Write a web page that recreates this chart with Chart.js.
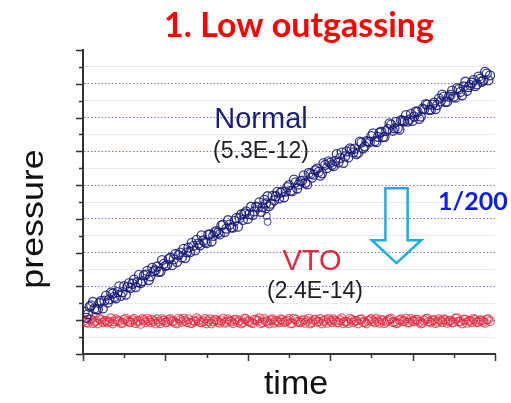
<!DOCTYPE html>
<html>
<head>
<meta charset="utf-8">
<script src="https://cdn.jsdelivr.net/npm/chart.js@4.4.1/dist/chart.umd.min.js"></script>
<style>
  html, body { margin: 0; padding: 0; background: #fff; }
  #wrap { width: 511px; height: 403px; position: relative; }
</style>
</head>
<body>
<div id="wrap"><canvas id="chart"></canvas></div>
<script>
// Both runs are logged on the same time base
const sampleStart = 0.02;
const sampleStep = 0.02;

// Normal chamber: pressure keeps climbing
const normalP = [
  1.25, 1.07, 1.18, 1.40, 1.44, 1.54, 1.35, 1.32, 1.32, 1.51,
  1.57, 1.35, 1.58, 1.73, 1.52, 1.62, 1.82, 1.79, 1.69, 1.65,
  1.83, 2.00, 1.72, 1.83, 2.01, 1.76, 1.98, 2.10, 1.96, 2.08,
  2.20, 1.98, 2.13, 2.34, 2.10, 2.16, 2.33, 2.35, 2.46, 2.19,
  2.30, 2.55, 2.45, 2.48, 2.59, 2.43, 2.44, 2.78, 2.67, 2.61,
  2.63, 2.81, 2.85, 2.63, 2.80, 2.96, 2.72, 2.93, 3.00, 2.86,
  3.11, 2.84, 3.01, 3.15, 3.02, 3.29, 3.20, 3.07, 3.38, 3.27,
  3.22, 3.51, 3.36, 3.31, 3.28, 3.53, 3.54, 3.33, 3.50, 3.61,
  3.64, 3.59, 3.54, 3.81, 3.83, 3.61, 3.71, 3.96, 3.83, 3.75,
  3.74, 3.94, 4.02, 3.77, 4.03, 4.13, 3.97, 4.16, 4.22, 4.00,
  4.14, 4.36, 4.12, 4.22, 4.36, 4.34, 4.49, 4.21, 4.35, 4.56,
  4.46, 4.67, 4.38, 4.45, 4.68, 4.55, 4.67, 4.80, 4.61, 4.78,
  4.81, 4.64, 4.81, 4.94, 5.00, 4.83, 4.82, 5.16, 5.08, 4.90,
  5.02, 5.12, 5.13, 5.29, 5.07, 5.02, 5.36, 5.33, 5.22, 5.31,
  5.44, 5.49, 5.39, 5.28, 5.35, 5.65, 5.60, 5.50, 5.70, 5.66,
  5.60, 5.56, 5.72, 5.92, 5.67, 5.80, 5.96, 5.66, 5.85, 6.00,
  5.82, 6.09, 6.06, 5.97, 6.08, 5.92, 5.96, 6.29, 6.26, 6.09,
  6.15, 6.30, 6.29, 6.27, 6.45, 6.53, 6.30, 6.27, 6.43, 6.55,
  6.58, 6.42, 6.43, 6.60, 6.66, 6.83, 6.79, 6.61, 6.68, 6.87,
  6.68, 6.64, 6.92, 6.91, 6.89, 7.07, 6.88, 6.94, 7.11, 6.90,
  7.03, 7.18, 7.17, 6.96, 7.03, 7.26, 7.24, 7.40, 7.38, 7.23,
  7.23, 7.38, 7.44, 7.25, 7.37, 7.56, 7.48, 7.68, 7.62, 7.46,
  7.47, 7.62, 7.67, 7.80, 7.62, 7.59, 7.87, 7.84, 7.76, 7.66,
  7.92, 8.06, 7.79, 7.90, 7.96, 8.03, 8.11, 7.93, 7.98, 8.21,
  8.15, 8.06, 8.11, 8.35, 8.30, 8.10, 8.25
];
// short glitch below the normal trace
const glitchT = [2.22, 2.23, 2.24];
const glitchP = [4.27, 4.09, 3.91];

// VTO chamber: stays flat
const vtoP = [
  0.99, 0.94, 0.92, 1.02, 1.03, 0.91, 0.95, 0.98, 0.90, 1.04, 1.01, 0.93, 0.97, 0.99, 0.93, 0.96, 1.06, 0.90, 0.96, 1.03,
  0.99, 0.97, 0.91, 0.92, 1.02, 1.05, 0.98, 0.95, 0.94, 1.00, 1.04, 0.91, 0.97, 0.98, 0.89, 1.04, 1.00, 0.94, 1.05, 0.99,
  0.93, 1.02, 0.97, 0.90, 1.03, 0.96, 0.91, 1.03, 0.99, 0.93, 0.95, 1.01, 1.04, 0.97, 0.97, 0.92, 0.90, 1.05, 1.01, 0.95,
  1.05, 0.98, 0.94, 1.03, 0.92, 0.91, 0.99, 0.96, 1.06, 1.00, 0.94, 0.93, 0.97, 1.04, 0.90, 0.97, 1.03, 0.90, 0.96, 1.02,
  1.00, 0.95, 0.92, 0.99, 1.05, 0.92, 0.95, 1.03, 0.98, 0.96, 0.91, 1.01, 1.02, 0.94, 0.99, 0.90, 0.93, 1.05, 1.04, 0.97,
  0.96, 0.93, 0.91, 1.02, 1.01, 0.98, 1.06, 0.91, 0.94, 1.04, 0.97, 0.95, 0.90, 1.00, 1.03, 0.92, 0.99, 0.97, 0.93, 1.03,
  1.00, 0.94, 0.96, 0.99, 1.04, 0.91, 0.91, 1.05, 1.02, 0.96, 0.95, 0.93, 0.98, 1.02, 0.92, 0.98, 1.05, 0.90, 0.94, 1.01,
  1.02, 0.95, 0.96, 1.04, 0.90, 0.97, 1.01, 0.92, 1.04, 0.99, 0.94, 1.03, 0.98, 0.94, 0.93, 1.00, 1.06, 0.91, 0.96, 0.96,
  0.91, 1.05, 1.01, 0.93, 0.99, 0.98, 0.90, 1.02, 1.03, 0.95, 0.94, 0.90, 0.98, 1.01, 1.04, 0.97, 0.93, 1.04, 0.97, 0.92,
  1.02, 0.99, 0.91, 0.96, 1.00, 1.03, 1.05, 0.94, 0.95, 0.91, 0.92, 1.00, 1.03, 0.97, 0.97, 1.05, 0.93, 0.93, 1.04, 0.98,
  0.96, 1.02, 1.01, 0.95, 0.90, 0.92, 0.99, 1.04, 1.05, 0.96, 0.93, 0.99, 1.01, 0.91, 0.95, 1.03, 0.98, 0.94, 1.03, 1.00,
  0.92, 0.97, 0.99, 0.93, 0.94, 1.05, 1.06, 0.96, 0.96, 0.90, 1.02, 1.02, 0.92, 0.98, 0.98, 0.94, 1.04, 1.01, 0.94, 0.95,
  1.00, 0.99, 0.95, 0.92, 1.02, 1.03, 0.97
];

const timeMax = 5;
const pressureMax = 9;

// "1/200" drop arrow outline, in (time, pressure)
const arrowT = [3.67, 3.94, 3.94, 4.105, 3.805, 3.505, 3.67];
const arrowP = [4.91, 4.91, 3.37, 3.37, 2.69, 3.37, 3.37];

const toPoints = (vals) => vals.map((p, i) => ({ x: sampleStart + i * sampleStep, y: p }));

const SANS = '"Liberation Sans", Arial, sans-serif';

// minor/major tick marks on the outside of both axes
const axisTicks = {
  id: 'axisTicks',
  afterDraw(chart) {
    const { ctx, scales: { x, y } } = chart;
    ctx.save();
    ctx.strokeStyle = '#333';
    ctx.lineWidth = 1.5;
    ctx.beginPath();
    for (let v = 0; v <= pressureMax; v += 0.5) {
      const py = Math.round(y.getPixelForValue(v)) + 0.5;
      const len = Number.isInteger(v) ? 7 : 4;
      ctx.moveTo(x.left - len, py);
      ctx.lineTo(x.left, py);
    }
    for (let v = 0; v <= timeMax; v += 0.5) {
      const px = Math.round(x.getPixelForValue(v)) + 0.5;
      const len = Number.isInteger(v) ? 7 : 4;
      ctx.moveTo(px, y.bottom);
      ctx.lineTo(px, y.bottom + len);
    }
    ctx.stroke();
    ctx.restore();
  }
};

const arrowMark = {
  id: 'arrowMark',
  afterDraw(chart) {
    const { ctx, scales: { x, y } } = chart;
    ctx.save();
    ctx.strokeStyle = '#1aaee8';
    ctx.lineWidth = 2.5;
    ctx.beginPath();
    arrowT.forEach((t, i) => {
      const px = x.getPixelForValue(t), py = y.getPixelForValue(arrowP[i]);
      if (i === 0) ctx.moveTo(px, py); else ctx.lineTo(px, py);
    });
    ctx.closePath();
    ctx.stroke();
    ctx.restore();
  }
};

const labels = {
  id: 'labels',
  afterDraw(chart) {
    const { ctx } = chart;
    const put = (text, x, y, font, color, align = 'center') => {
      ctx.font = font;
      ctx.fillStyle = color;
      ctx.textAlign = align;
      ctx.textBaseline = 'alphabetic';
      ctx.fillText(text, x, y);
    };
    ctx.save();
    put('1. Low outgassing', 299, 37, 'bold 34px Lato, sans-serif', '#ff0000');
    put('Normal', 261, 128, '29px ' + SANS, '#1b1b7c');
    put('(5.3E-12)', 261, 158, '23px ' + SANS, '#1e1e1e');
    put('VTO', 312, 270, '29px ' + SANS, '#e2283c');
    put('(2.4E-14)', 315, 298, '23px ' + SANS, '#1e1e1e');
    put('1/200', 438, 210, 'bold 25px Lato, sans-serif', '#0a1ee6', 'left');
    put('time', 296, 394, '34px ' + SANS, '#111');

    ctx.translate(43, 219);
    ctx.rotate(-Math.PI / 2);
    ctx.scale(1.12, 1);
    put('pressure', 0, 0, '32px ' + SANS, '#111');
    ctx.restore();
  }
};

const ring = (color, r, w) => ({
  borderColor: color,
  backgroundColor: 'rgba(0,0,0,0)',
  borderWidth: w,
  pointRadius: r
});

new Chart(document.getElementById('chart'), {
  type: 'scatter',
  data: {
    datasets: [
      { label: 'Normal', data: toPoints(normalP), ...ring('rgba(22,22,120,0.85)', 4.5, 1.3) },
      { label: 'Normal glitch', data: glitchT.map((t, i) => ({ x: t, y: glitchP[i] })), ...ring('rgba(22,22,120,0.8)', 3.5, 1) },
      { label: 'VTO', data: toPoints(vtoP), ...ring('rgba(226,38,58,0.72)', 4.3, 1.2) }
    ]
  },
  options: {
    responsive: true,
    maintainAspectRatio: false,
    animation: false,
    layout: { padding: { left: 83, right: 16, top: 50, bottom: 49 } },
    plugins: {
      legend: { display: false },
      tooltip: { enabled: false },
      title: { display: false }
    },
    scales: {
      x: {
        type: 'linear',
        min: 0,
        max: timeMax,
        ticks: { display: false },
        grid: { display: false, drawTicks: false },
        border: { color: '#333', width: 2 }
      },
      y: {
        min: 0,
        max: pressureMax,
        ticks: { display: false, stepSize: 0.5, maxTicksLimit: 40 },
        grid: {
          drawTicks: false,
          lineWidth: 1,
          color: (c) => {
            const v = c.tick ? c.tick.value : 0;
            if (v <= 0 || v >= pressureMax) return 'rgba(0,0,0,0)';
            return Number.isInteger(v) ? 'rgba(95,95,200,0.85)' : '#ebebf2';
          }
        },
        border: {
          color: '#333',
          width: 2,
          dash: (c) => (c.tick && Number.isInteger(c.tick.value) ? [1.5, 2] : [])
        }
      }
    }
  },
  plugins: [axisTicks, arrowMark, labels]
});
</script>
</body>
</html>
